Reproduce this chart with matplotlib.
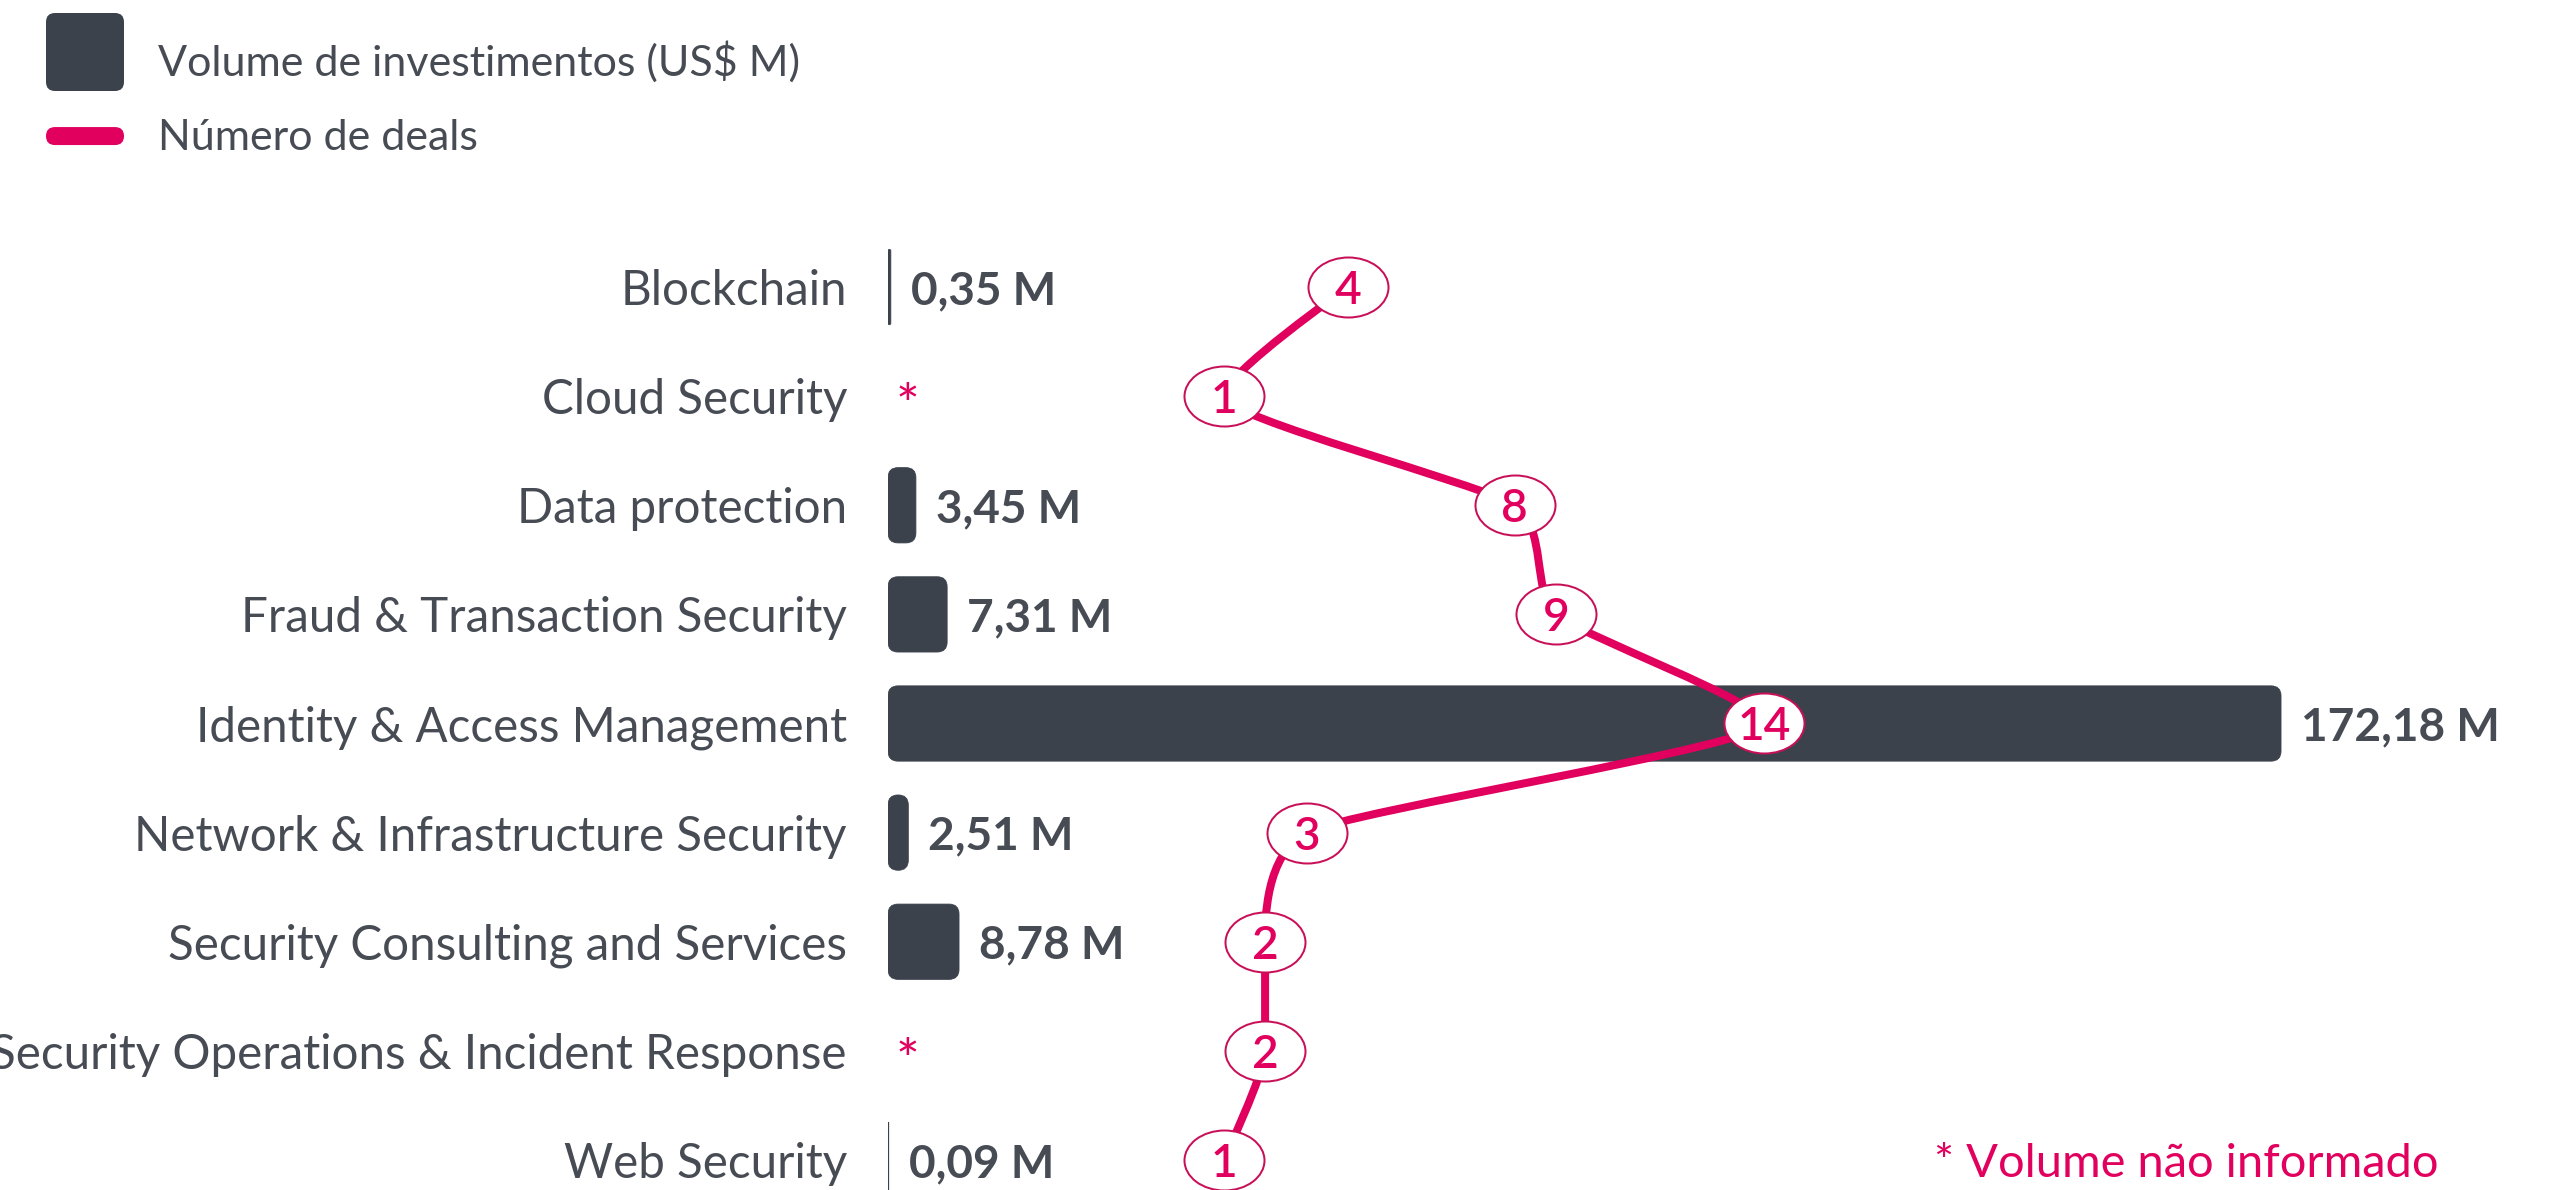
import numpy as np
import matplotlib
matplotlib.use("Agg")
import matplotlib.pyplot as plt
from matplotlib.patches import FancyBboxPatch
from matplotlib.path import Path
from matplotlib.patches import PathPatch
from matplotlib.lines import Line2D
from matplotlib.legend_handler import HandlerBase

# ---------------- data ----------------
categories = [
    "Blockchain",
    "Cloud Security",
    "Data protection",
    "Fraud & Transaction Security",
    "Identity & Access Management",
    "Network & Infrastructure Security",
    "Security Consulting and Services",
    "Security Operations & Incident Response",
    "Web Security",
]
volume_musd = [0.35, np.nan, 3.45, 7.31, 172.18, 2.51, 8.78, np.nan, 0.09]
deals = [4, 1, 8, 9, 14, 3, 2, 2, 1]
legend_labels = ["Volume de investimentos (US$ M)", "Número de deals"]
footnote = "* Volume não informado"

# ---------------- style ----------------
PINK = "#E2005E"
PINK_EDGE = "#C80F58"
DARK = "#3B424C"
TEXT = "#474B53"
FONT = ["Lato", "DejaVu Sans"]
plt.rcParams["font.family"] = FONT

W, H, DPI = 2555, 1190, 72
fig = plt.figure(figsize=(W / DPI, H / DPI), dpi=DPI)
fig.patch.set_facecolor("white")

ax_left, ax_right = 888, 2450
ax_top, ax_bot = 232.5, 1214.5
ax = fig.add_axes([ax_left / W, 1 - ax_bot / H, (ax_right - ax_left) / W, (ax_bot - ax_top) / H])
ax.set_facecolor("none")
n = len(categories)
rows = np.arange(n)
ax.set_ylim(n - 0.5, -0.5)
ax.set_xlim(0, np.nanmax(volume_musd) * 1.1213)

ax2 = ax.twiny()
ax2.set_xlim(-7.07, 30.5)
ax2.set_ylim(n - 0.5, -0.5)

for a in (ax, ax2):
    for s in a.spines.values():
        s.set_visible(False)
    a.tick_params(length=0)
ax2.set_xticks([])
ax.set_xticks([])
ax.set_yticks(rows)
ax.set_yticklabels(categories, fontsize=47.5, color=TEXT)
ax.tick_params(axis="y", pad=41)

# ---------------- bars (rounded) ----------------
bar_h = 0.69
vol = np.array(volume_musd, dtype=float)
valid = ~np.isnan(vol)
bars = ax.barh(rows[valid], vol[valid], height=bar_h, color=DARK)
fig.canvas.draw()
p0 = ax.transData.transform((0, 0))
p1 = ax.transData.transform((1, 1))
px_x = abs(p1[0] - p0[0])
px_y = abs(p1[1] - p0[1])
for b in bars:
    x, y = b.get_x(), b.get_y()
    w, h = b.get_width(), b.get_height()
    r_px = min(10.0, w * px_x / 2.0)
    b.set_visible(False)
    fb = FancyBboxPatch((x, y), w, h,
                        boxstyle=f"round,pad=0,rounding_size={r_px / px_x}",
                        mutation_aspect=px_x / px_y,
                        fc=DARK, ec=DARK, lw=0.8, zorder=2)
    ax.add_patch(fb)

# value labels / asterisks
for i, v in enumerate(vol):
    if np.isnan(v):
        ax.annotate("*", xy=(0, i), xytext=(8, -28), textcoords="offset points",
                    ha="left", va="baseline", fontsize=56, color=PINK)
    else:
        lab = f"{v:.2f}".replace(".", ",") + " M"
        ax.annotate(lab, xy=(v, i), xytext=(20, 0), textcoords="offset points",
                    ha="left", va="center_baseline", fontsize=46, color=TEXT,
                    fontweight="bold")

# ---------------- deals spline ----------------
def spline_path(cat, val, smoothing=4.0):
    m = len(cat)
    denom = smoothing + 1
    left = [None] * m
    right = [None] * m
    for i in range(1, m - 1):
        px_, py_ = cat[i], val[i]
        lx, ly = cat[i - 1], val[i - 1]
        nx, ny = cat[i + 1], val[i + 1]
        lcx = (smoothing * px_ + lx) / denom
        lcy = (smoothing * py_ + ly) / denom
        rcx = (smoothing * px_ + nx) / denom
        rcy = (smoothing * py_ + ny) / denom
        corr = 0.0
        if rcx != lcx:
            corr = (rcy - lcy) * (rcx - px_) / (rcx - lcx) + py_ - rcy
        lcy += corr
        rcy += corr
        if lcy > ly and lcy > py_:
            lcy = max(ly, py_); rcy = 2 * py_ - lcy
        elif lcy < ly and lcy < py_:
            lcy = min(ly, py_); rcy = 2 * py_ - lcy
        if rcy > ny and rcy > py_:
            rcy = max(ny, py_); lcy = 2 * py_ - rcy
        elif rcy < ny and rcy < py_:
            rcy = min(ny, py_); lcy = 2 * py_ - rcy
        left[i] = (lcx, lcy)
        right[i] = (rcx, rcy)
    verts = [(val[0], cat[0])]
    codes = [Path.MOVETO]
    for i in range(1, m):
        c1 = right[i - 1] if right[i - 1] is not None else (cat[i - 1], val[i - 1])
        c2 = left[i] if left[i] is not None else (cat[i], val[i])
        verts += [(c1[1], c1[0]), (c2[1], c2[0]), (val[i], cat[i])]
        codes += [Path.CURVE4] * 3
    return Path(verts, codes)

curve = PathPatch(spline_path(list(rows.astype(float)), [float(d) for d in deals]),
                  fc="none", ec=PINK, lw=8, zorder=3, capstyle="round", joinstyle="round")
ax2.add_patch(curve)

ell = Path.unit_circle()
ell = Path(ell.vertices * np.array([1.0, 60 / 80]), ell.codes)
ax2.plot(deals, rows, linestyle="none", marker=ell, markersize=80,
         markerfacecolor="white", markeredgecolor=PINK_EDGE, markeredgewidth=2, zorder=4)
for d, r in zip(deals, rows):
    ax2.text(d, r, str(d), ha="center", va="center_baseline", fontsize=46,
             fontweight="semibold", color=PINK, zorder=5)

# ---------------- legend ----------------
class RoundHandler(HandlerBase):
    def __init__(self, hpx, top_off, radius):
        super().__init__()
        self.hpx = hpx
        self.top_off = top_off
        self.radius = radius

    def create_artists(self, legend, orig_handle, xdescent, ydescent, width, height,
                       fontsize, trans):
        top = -ydescent + height
        y0 = top - self.top_off - self.hpx
        p = FancyBboxPatch((-xdescent, y0), width, self.hpx,
                           boxstyle=f"round,pad=0,rounding_size={min(self.radius, self.hpx / 2)}",
                           fc=orig_handle.get_color(), ec="none", transform=trans)
        return [p]

LFS = 43
BOX = 100.0
hh_units = (BOX - 0.35 * 0.7 * LFS) / (LFS * (1 - 0.35))
h1 = Line2D([], [], color=DARK)
h2 = Line2D([], [], color=PINK)
fig.legend([h1, h2], legend_labels, loc="upper left",
           bbox_to_anchor=(46 / W, 1 - 13 / H), bbox_transform=fig.transFigure,
           frameon=False, fontsize=LFS, labelcolor=TEXT,
           handlelength=78 / LFS, handleheight=hh_units, handletextpad=34 / LFS,
           labelspacing=-0.58, borderpad=0, borderaxespad=0,
           handler_map={h1: RoundHandler(78, 0, 9), h2: RoundHandler(18, 39, 9)})

fig.text(1934 / W, 1 - 1160 / H, footnote, ha="left", va="center_baseline",
         fontsize=47, color=PINK)

fig.savefig("out.png", dpi=DPI, facecolor="white")
